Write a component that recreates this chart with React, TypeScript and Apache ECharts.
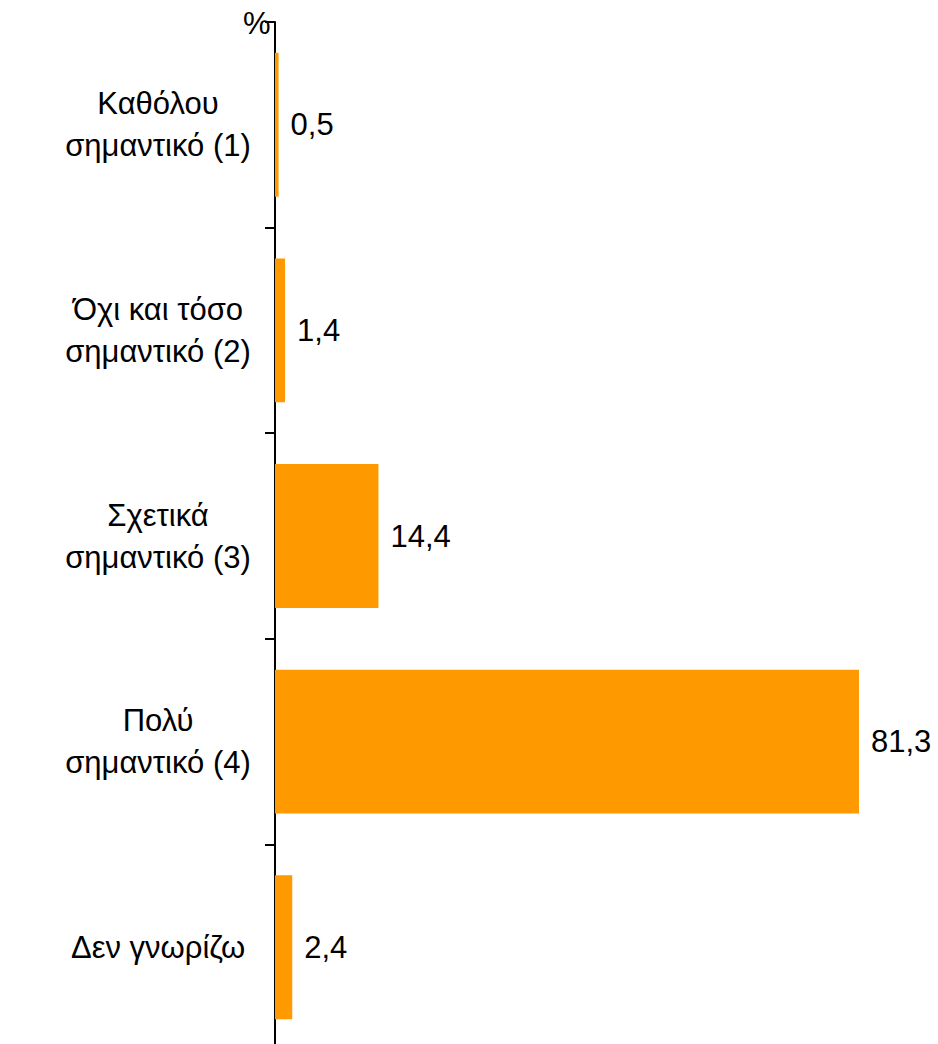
import React, { useEffect, useRef } from "react";
import * as echarts from "echarts";

const categories = [
  "Καθόλου\nσημαντικό (1)",
  "Όχι και τόσο\nσημαντικό (2)",
  "Σχετικά\nσημαντικό (3)",
  "Πολύ\nσημαντικό (4)",
  "Δεν γνωρίζω",
];
const values = [0.5, 1.4, 14.4, 81.3, 2.4];
const unitLabel = "%";

export default function App() {
  const ref = useRef<HTMLDivElement>(null);
  useEffect(() => {
    if (!ref.current) return;
    const chart = echarts.init(ref.current, undefined, { renderer: "svg" });
    const font = "'Liberation Sans', Arial, sans-serif";
    chart.setOption({
      animation: false,
      backgroundColor: "#ffffff",
      title: {
        text: unitLabel,
        left: 238,
        top: 3,
        textStyle: { fontFamily: font, fontSize: 31, fontWeight: "normal", color: "#000" },
      },
      grid: { left: 275, top: 22, right: 0, bottom: 0, containLabel: false, outerBoundsMode: "none" },
      xAxis: { type: "value", min: 0, max: 92.3, show: false },
      yAxis: {
        type: "category",
        inverse: true,
        data: categories,
        axisLine: { show: true, lineStyle: { color: "#000", width: 2 } },
        axisTick: { show: true, length: 10, lineStyle: { color: "#000", width: 2 } },
        axisLabel: {
          align: "center",
          margin: 117,
          fontFamily: font,
          fontSize: 31,
          lineHeight: 42,
          color: "#000",
        },
        splitLine: { show: false },
      },
      series: [
        {
          type: "bar",
          data: values,
          barCategoryGap: "30%",
          itemStyle: { color: "#FF9900" },
          label: {
            show: true,
            position: "right",
            distance: 12,
            fontFamily: font,
            fontSize: 31,
            color: "#000",
            formatter: (p: any) => String(p.value).replace(".", ","),
          },
        },
      ],
    });
    return () => chart.dispose();
  }, []);
  return (
    <div
      ref={ref}
      style={{ position: "fixed", left: 0, top: 0, width: 938, height: 1050, background: "#fff" }}
    />
  );
}
